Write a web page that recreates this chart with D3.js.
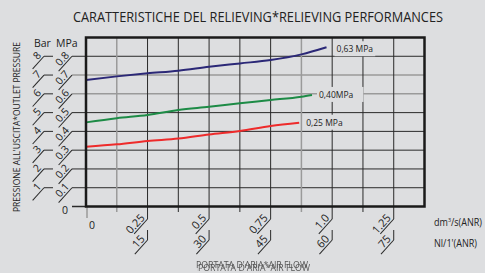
<!DOCTYPE html>
<html lang="it">
<head>
    <meta charset="UTF-8">
    <title>Caratteristiche del relieving</title>
    <style>
        body {
            margin: 0;
            padding: 0;
            background-color: #dddee0;
        }
        #grafico {
            display: block;
        }
        text {
            font-family: 'Open Sans', sans-serif;
            fill: #222;
        }
    </style>
    <script src="https://d3js.org/d3.v7.min.js"></script>
</head>
<body>
    <svg id="grafico"></svg>
    <script>
        // Dati (portata in dm3/s, pressione in MPa)
        const flowTicks = [0.25, 0.5, 0.75, 1.0, 1.25];
        const flowLabels = ["0.25", "0.5", "0.75", "1.0", "1.25"];
        const nlLabels = ["15", "30", "45", "60", "75"];
        const mpaTicks = [0.1, 0.2, 0.3, 0.4, 0.5, 0.6, 0.7, 0.8];
        const mpaLabels = ["0.1", "0.2", "0.3", "0.4", "0.5", "0.6", "0.7", "0.8"];
        const barLabels = ["1", "2", "3", "4", "5", "6", "7", "8"];

        const flowX = [0, 0.125, 0.25, 0.375, 0.5, 0.625, 0.75, 0.875];
        const blue063 = [0.674, 0.693, 0.709, 0.723, 0.744, 0.762, 0.780, 0.810];
        const green040 = [0.448, 0.470, 0.487, 0.514, 0.531, 0.550, 0.567, 0.585];
        const red025 = [0.318, 0.331, 0.349, 0.362, 0.384, 0.402, 0.429];
        const lastX = [0.977, 0.918, 0.866];
        const lastY = [0.848, 0.594, 0.446];
        const seriesNames = ["0,63 MPa", "0,40MPa", "0,25 MPa"];
        const seriesColors = ["#2b2877", "#1d8b46", "#ee2b2b"];

        const width = 485, height = 273;
        const svg = d3.select("#grafico")
            .attr("width", width)
            .attr("height", height);

        // filtro per l'effetto "doppio" del titolo in basso
        const filtro = svg.append("defs").append("filter")
            .attr("id", "doppio")
            .attr("x", "-5%").attr("y", "-50%")
            .attr("width", "110%").attr("height", "200%");
        filtro.append("feOffset").attr("in", "SourceGraphic")
            .attr("dx", 1.5).attr("dy", 2.5).attr("result", "sposta");
        const merge = filtro.append("feMerge");
        merge.append("feMergeNode").attr("in", "sposta");
        merge.append("feMergeNode").attr("in", "SourceGraphic");

        const x = d3.scaleLinear().domain([0, 1.375]).range([86, 424.5]);
        const y = d3.scaleLinear().domain([0, 0.9]).range([206.5, 37.5]);

        const dark = "#2a2a2a", grey = "#9a9a9a";
        const ang = -48;

        // Titolo
        svg.append("text")
            .attr("x", 258).attr("y", 22)
            .attr("text-anchor", "middle")
            .attr("font-size", 14)
            .attr("textLength", 370)
            .attr("lengthAdjust", "spacingAndGlyphs")
            .text("CARATTERISTICHE DEL RELIEVING*RELIEVING PERFORMANCES");

        // Griglia orizzontale + tacche
        const colonne = d3.range(1, 11).map(i => i * 0.125);
        svg.selectAll("line.hgrid")
            .data(mpaTicks)
            .enter().append("line")
            .attr("x1", 72).attr("x2", x(1.375))
            .attr("y1", d => y(d)).attr("y2", d => y(d))
            .attr("stroke", d => (d === 0.6 || d === 0.7) ? grey : dark)
            .attr("stroke-width", d => (d === 0.6 || d === 0.7) ? 1.5 : 1);

        // Griglia verticale (le colonne con etichetta scendono di piu)
        svg.selectAll("line.vgrid")
            .data(colonne)
            .enter().append("line")
            .attr("x1", d => x(d)).attr("x2", d => x(d))
            .attr("y1", y(0.9))
            .attr("y2", (d, i) => (i % 2 === 1) ? 219 : 212)
            .attr("stroke", (d, i) => (i === 0 || i === 6) ? grey : dark)
            .attr("stroke-width", (d, i) => (i === 0 || i === 6) ? 1.5 : 1);

        // seconda riga di tacche (Nl/1')
        svg.selectAll("line.vtick2")
            .data(flowTicks)
            .enter().append("line")
            .attr("x1", d => x(d)).attr("x2", d => x(d))
            .attr("y1", 230).attr("y2", 240)
            .attr("stroke", dark).attr("stroke-width", 1);

        // tacche dello zero
        svg.append("line")
            .attr("x1", 72).attr("x2", 86)
            .attr("y1", y(0)).attr("y2", y(0))
            .attr("stroke", dark).attr("stroke-width", 1.5);
        svg.append("line")
            .attr("x1", x(0) + 1).attr("x2", x(0) + 1)
            .attr("y1", y(0)).attr("y2", 218)
            .attr("stroke", grey).attr("stroke-width", 1.5);

        // Etichette oblique con sottolineatura
        function etichettaObliqua(px, py, testo, lung, size) {
            const g = svg.append("g")
                .attr("transform", `translate(${px},${py}) rotate(${ang})`);
            g.append("line")
                .attr("x1", -lung).attr("x2", 0)
                .attr("y1", 0).attr("y2", 0)
                .attr("stroke", dark).attr("stroke-width", 1);
            g.append("text")
                .attr("x", -1).attr("y", -2)
                .attr("text-anchor", "end")
                .attr("font-size", size)
                .text(testo);
        }

        mpaTicks.forEach((v, i) => {
            etichettaObliqua(72, y(v), mpaLabels[i], 20, 10.5);
            svg.append("line")
                .attr("x1", 44).attr("x2", 53)
                .attr("y1", y(v)).attr("y2", y(v))
                .attr("stroke", dark).attr("stroke-width", 1);
            etichettaObliqua(44, y(v), barLabels[i], 17, 10.5);
        });

        flowTicks.forEach((v, i) => {
            etichettaObliqua(x(v), 219, flowLabels[i], 20, 11);
            etichettaObliqua(x(v), 240, nlLabels[i], 19, 11);
        });

        svg.append("text").attr("x", 65).attr("y", 214)
            .attr("text-anchor", "middle").attr("font-size", 10.5).text("0");
        svg.append("text").attr("x", 92).attr("y", 229)
            .attr("text-anchor", "middle").attr("font-size", 10.5).text("0");

        // Unita
        svg.append("text").attr("x", 34).attr("y", 47)
            .attr("font-size", 10.5).text("Bar");
        svg.append("text").attr("x", 56).attr("y", 47)
            .attr("font-size", 10.5).text("MPa");

        const um = svg.append("text").attr("x", 434).attr("y", 226)
            .attr("font-size", 10)
            .attr("textLength", 48)
            .attr("lengthAdjust", "spacingAndGlyphs");
        um.append("tspan").text("dm");
        um.append("tspan").attr("dy", -4).attr("font-size", 6).text("3");
        um.append("tspan").attr("dy", 4).text("/s(ANR)");

        svg.append("text").attr("x", 434).attr("y", 247)
            .attr("font-size", 10)
            .attr("textLength", 43)
            .attr("lengthAdjust", "spacingAndGlyphs")
            .text("Nl/1'(ANR)");

        // Titoli assi
        svg.append("text")
            .attr("transform", "translate(20,127) rotate(-90)")
            .attr("text-anchor", "middle")
            .attr("font-size", 9)
            .attr("textLength", 170)
            .attr("lengthAdjust", "spacingAndGlyphs")
            .text("PRESSIONE ALL'USCITA*OUTLET PRESSURE");

        svg.append("text")
            .attr("x", 196).attr("y", 267.5)
            .attr("font-size", 8.5)
            .attr("textLength", 112)
            .attr("lengthAdjust", "spacingAndGlyphs")
            .attr("filter", "url(#doppio)")
            .style("fill", "#555")
            .text("PORTATA D'ARIA*AIR FLOW");

        // Curve
        const serie = [blue063, green040, red025].map((vals, s) =>
            vals.map((v, i) => [flowX[i], v]).concat([[lastX[s], lastY[s]]]));

        const linea = d3.line()
            .x(d => x(d[0]))
            .y(d => y(d[1]))
            .curve(d3.curveMonotoneX);

        svg.selectAll("path.serie")
            .data(serie)
            .enter().append("path")
            .attr("d", linea)
            .attr("fill", "none")
            .attr("stroke", (d, i) => seriesColors[i])
            .attr("stroke-width", 2);

        // Etichette delle curve con sfondo
        serie.forEach((d, i) => {
            const fine = d[d.length - 1];
            const g = svg.append("g");
            const t = g.append("text")
                .attr("x", x(fine[0]) + (i === 0 ? 10 : 7))
                .attr("y", y(fine[1]) + (i === 0 ? 2 : 0))
                .attr("dy", "0.35em")
                .attr("font-size", 8.5)
                .text(seriesNames[i]);
            const b = t.node().getBBox();
            g.insert("rect", "text")
                .attr("x", b.x - 2).attr("y", b.y - 2)
                .attr("width", b.width + (i === 1 ? 12 : 4))
                .attr("height", b.height + 4)
                .attr("fill", "#dddee0");
        });

        // Cornice
        svg.append("rect")
            .attr("x", x(0)).attr("y", y(0.9))
            .attr("width", x(1.375) - x(0))
            .attr("height", y(0) - y(0.9))
            .attr("fill", "none")
            .attr("stroke", "#1a1a1a")
            .attr("stroke-width", 2.5);
    </script>
</body>
</html>
